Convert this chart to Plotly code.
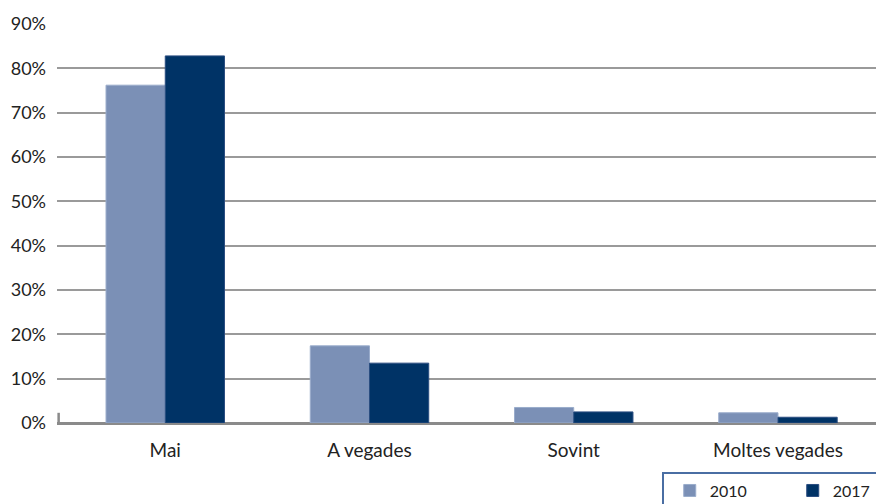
import plotly.graph_objects as go

categories = ["Mai", "A vegades", "Sovint", "Moltes vegades"]
values_2010 = [76.2, 17.4, 3.5, 2.3]
values_2017 = [82.8, 13.5, 2.5, 1.3]
tick_vals = [0, 10, 20, 30, 40, 50, 60, 70, 80, 90]
tick_text = [f"{v}%" for v in tick_vals]

FONT = "Lato, 'Open Sans', sans-serif"

fig = go.Figure()
fig.add_trace(go.Bar(name="2010", x=categories, y=values_2010,
                     marker=dict(color="#7b90b6", line=dict(color="#9aaccb", width=1))))
fig.add_trace(go.Bar(name="2017", x=categories, y=values_2017,
                     marker=dict(color="#003366", line=dict(color="#2a4d80", width=1))))

fig.update_layout(
    width=876, height=504,
    margin=dict(l=57, r=0, t=24, b=81, autoexpand=False),
    plot_bgcolor="white", paper_bgcolor="white",
    barmode="group", bargap=0.42, bargroupgap=0,
    font=dict(family=FONT, size=18, color="#222222"),
    showlegend=True,
    legend=dict(orientation="h", x=0.739, y=-0.123, xanchor="left", yanchor="top",
                bordercolor="#4a6ea3", borderwidth=1.5, bgcolor="white",
                font=dict(size=16, color="#222222"),
                entrywidth=72, tracegroupgap=0, indentation=6),
    xaxis=dict(showgrid=False, showline=False, ticks="", tickfont=dict(size=19),
               zeroline=False, ticklabelstandoff=14, range=[-0.53, 3.48]),
    yaxis=dict(range=[0, 90], tickvals=tick_vals, ticktext=tick_text,
               showgrid=True, gridcolor="#9a9a9a", gridwidth=1.5,
               zeroline=True, zerolinecolor="#8a8a8a", zerolinewidth=3,
               showline=False, ticks="", tickfont=dict(size=18), ticklabelstandoff=10),
)

# small left tick at the base of the axis
fig.add_shape(type="line", xref="paper", yref="y", x0=0.002, x1=0.002, y0=0, y1=2.3,
              line=dict(color="#8a8a8a", width=2.5))

fig.write_html(
    "out.html",
    config={"displayModeBar": False},
    post_script="document.body.style.margin='0';document.body.style.overflow='hidden';",
)
